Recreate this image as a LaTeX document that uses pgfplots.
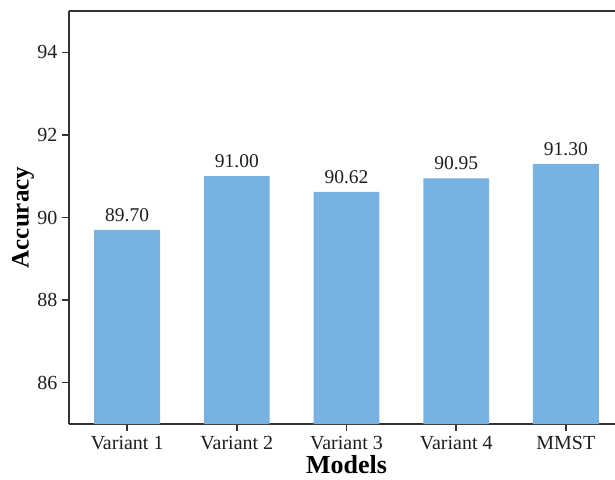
\documentclass[border=0pt]{standalone}
\usepackage{fontspec}
\setmainfont{Liberation Serif}
\usepackage{pgfplots}
\pgfplotsset{compat=1.18}

\definecolor{barblue}{RGB}{120,178,226}
\definecolor{spine}{RGB}{51,51,51}
\definecolor{txt}{RGB}{30,30,30}

\begin{document}
\begin{tikzpicture}
\begin{axis}[
  scale only axis,
  width=555pt, height=413pt,
  at={(0,0)}, anchor=south west,
  xmin=-0.53, xmax=4.53,
  ymin=85, ymax=95,
  xtick={0,1,2,3,4},
  xticklabels={Variant 1,Variant 2,Variant 3,Variant 4,MMST},
  ytick={86,88,90,92,94},
  axis x line*=bottom,
  axis y line*=left,
  axis line style={spine, line width=1.5pt},
  tick align=outside,
  major tick length=7pt,
  every tick/.style={spine, line width=1.5pt},
  /pgf/number format/assume math mode=true,
  tick label style={font=\fontsize{20}{23}\selectfont, text=txt},
  xticklabel style={yshift=-2pt},
  yticklabel style={xshift=-1pt},
  every axis y label/.style={at={(axis description cs:0,0.5)}, xshift=-46pt, rotate=90, anchor=center},
  every axis x label/.style={at={(axis description cs:0.5,0)}, yshift=-49pt, anchor=base},
  ylabel={\fontsize{25}{28}\selectfont\bfseries Accuracy},
  xlabel={\fontsize{26}{29}\selectfont\bfseries Models},
  ybar, bar width=0.6,
  nodes near coords={\pgfmathprintnumber[fixed,fixed zerofill,precision=2]{\pgfplotspointmeta}},
  every node near coord/.append style={font=\fontsize{19.5}{22}\selectfont, text=txt, inner sep=0pt, yshift=8pt},
]
\addplot[fill=barblue, draw=none] coordinates {
  (0,89.70) (1,91.00) (2,90.62) (3,90.95) (4,91.30)
};
\draw[spine, line width=1.5pt] (rel axis cs:0,1) -- (rel axis cs:1,1);
\end{axis}
\pgfresetboundingbox
\path[use as bounding box] (-69pt,-55pt) rectangle (546pt,424pt);
\end{tikzpicture}
\end{document}
